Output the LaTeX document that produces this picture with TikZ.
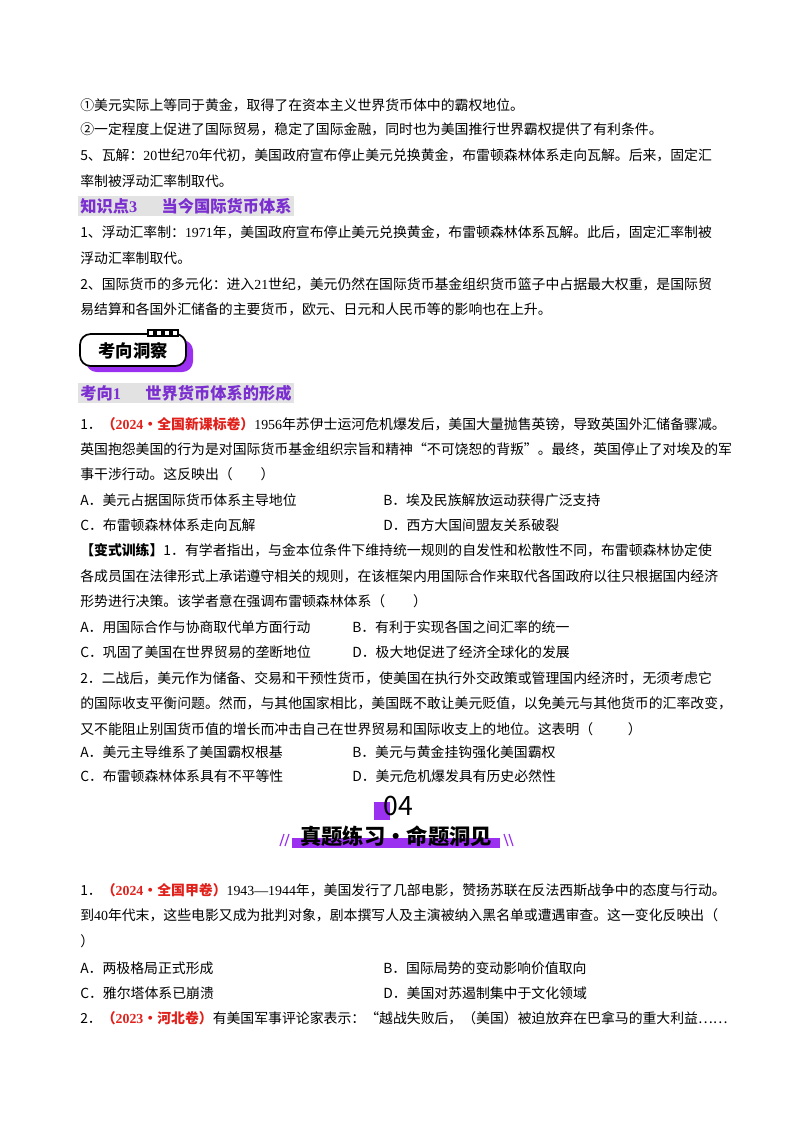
\documentclass[tikz,border=0pt]{standalone}
\usepackage{fontspec}
\setmainfont{Noto Sans CJK SC}
\newfontfamily\lat{Liberation Serif}
\definecolor{pur}{HTML}{7B2FD0}
\definecolor{vio}{HTML}{9B30F0}
\definecolor{redc}{HTML}{E0201A}
\definecolor{hbg}{HTML}{E2E2E2}
\begin{document}
\begin{tikzpicture}[x=0.75pt,y=-0.75pt,
  t/.style={anchor=west,inner sep=0pt,font=\fontsize{10.4pt}{12pt}\selectfont},
  h/.style={anchor=west,inner sep=1.5pt,fill=hbg,text=pur,font=\fontsize{12.2pt}{14pt}\selectfont\bfseries},
  r/.style={text=redc}]
\useasboundingbox (0,0) rectangle (800,1132);
\node[t] (l1) at (80,105) {①美元实际上等同于黄金，取得了在资本主义世界货币体中的霸权地位。};
\node[t] (l2) at (80,129) {②一定程度上促进了国际贸易，稳定了国际金融，同时也为美国推行世界霸权提供了有利条件。};
\node[t] (l3) at (80,155) {5、瓦解：{\lat 20}世纪{\lat 70}年代初，美国政府宣布停止美元兑换黄金，布雷顿森林体系走向瓦解。后来，固定汇};
\node[t] (l4) at (80,181) {率制被浮动汇率制取代。};
\node[h] (k3) at (78,206) {知识点{\lat 3}\hspace{1.5em}当今国际货币体系};
\node[t] (l5) at (80,232) {1、浮动汇率制：{\lat 1971}年，美国政府宣布停止美元兑换黄金，布雷顿森林体系瓦解。此后，固定汇率制被};
\node[t] (l6) at (80,258) {浮动汇率制取代。};
\node[t] (l7) at (80,284) {2、国际货币的多元化：进入{\lat 21}世纪，美元仍然在国际货币基金组织货币篮子中占据最大权重，是国际贸};
\node[t] (l8) at (80,309) {易结算和各国外汇储备的主要货币，欧元、日元和人民币等的影响也在上升。};
% badge
\fill[vio,rounded corners=8pt] (86,340) rectangle (193,372);
\draw[black,line width=1.3pt,fill=white,rounded corners=8pt] (80,334) rectangle (186,366);
\foreach \i in {0,1,2,3}{\draw[black,fill=white,line width=0.8pt] (148+\i*8,330) rectangle (154+\i*8,336);}
\node[inner sep=0pt,font=\fontsize{13pt}{15pt}\selectfont\bfseries] (badge) at (133,351) {考向洞察};
\node[h] (kx1) at (78,393) {考向{\lat 1}\hspace{1.5em}世界货币体系的形成};
\node[t] (q1) at (80,424) {1．{\bfseries\color{redc}（{\lat 2024}·全国新课标卷）}{\lat 1956}年苏伊士运河危机爆发后，美国大量抛售英镑，导致英国外汇储备骤减。};
\node[t] (q1b) at (80,449) {英国抱怨美国的行为是对国际货币基金组织宗旨和精神“不可饶恕的背叛"。最终，英国停止了对埃及的军};
\node[t] (q1c) at (80,474) {事干涉行动。这反映出（\hspace{2em}）};
\node[t] (q1a) at (80,500) {A．美元占据国际货币体系主导地位};
\node[t] (q1bb) at (383,500) {B．埃及民族解放运动获得广泛支持};
\node[t] (q1cc) at (80,525) {C．布雷顿森林体系走向瓦解};
\node[t] (q1d) at (383,525) {D．西方大国间盟友关系破裂};
\node[t] (v1) at (80,550) {{\bfseries 【变式训练】}1．有学者指出，与金本位条件下维持统一规则的自发性和松散性不同，布雷顿森林协定使};
\node[t] (v1b) at (80,576) {各成员国在法律形式上承诺遵守相关的规则，在该框架内用国际合作来取代各国政府以往只根据国内经济};
\node[t] (v1c) at (80,601) {形势进行决策。该学者意在强调布雷顿森林体系（\hspace{2em}）};
\node[t] (v1a) at (80,627) {A．用国际合作与协商取代单方面行动};
\node[t] (v1bb) at (352,627) {B．有利于实现各国之间汇率的统一};
\node[t] (v1cc) at (80,652) {C．巩固了美国在世界贸易的垄断地位};
\node[t] (v1d) at (352,652) {D．极大地促进了经济全球化的发展};
\node[t] (v2) at (80,678) {2．二战后，美元作为储备、交易和干预性货币，使美国在执行外交政策或管理国内经济时，无须考虑它};
\node[t] (v2b) at (80,703) {的国际收支平衡问题。然而，与其他国家相比，美国既不敢让美元贬值，以免美元与其他货币的汇率改变，};
\node[t] (v2c) at (80,729) {又不能阻止别国货币值的增长而冲击自己在世界贸易和国际收支上的地位。这表明（\hspace{2.5em}）};
\node[t] (v2a) at (80,752) {A．美元主导维系了美国霸权根基};
\node[t] (v2bb) at (352,752) {B．美元与黄金挂钩强化美国霸权};
\node[t] (v2cc) at (80,776) {C．布雷顿森林体系具有不平等性};
\node[t] (v2d) at (352,776) {D．美元危机爆发具有历史必然性};
% banner 04
\fill[vio] (374,802) rectangle (390,820);
\node[inner sep=0pt,font=\fontsize{20pt}{22pt}\selectfont] (n04) at (398,806) {04};
\fill[vio] (292,838) rectangle (500,848);
\node[inner sep=0pt,font=\fontsize{16pt}{18pt}\selectfont\bfseries] (ban) at (396,836) {真题练习·命题洞见};
\foreach \dx in {0,5}{\draw[vio,line width=0.9pt] (280+\dx,846)--(284+\dx,834);}
\foreach \dx in {0,5}{\draw[vio,line width=0.9pt] (504+\dx,834)--(508+\dx,846);}
\node[t] (p1) at (80,890) {1．{\bfseries\color{redc}（{\lat 2024}·全国甲卷）}{\lat 1943—1944}年，美国发行了几部电影，赞扬苏联在反法西斯战争中的态度与行动。};
\node[t] (p1b) at (80,915) {到{\lat 40}年代末，这些电影又成为批判对象，剧本撰写人及主演被纳入黑名单或遭遇审查。这一变化反映出（};
\node[t] (p1c) at (80,941) {）};
\node[t] (p1a) at (80,968) {A．两极格局正式形成};
\node[t] (p1bb) at (383,968) {B．国际局势的变动影响价值取向};
\node[t] (p1cc) at (80,993) {C．雅尔塔体系已崩溃};
\node[t] (p1d) at (383,993) {D．美国对苏遏制集中于文化领域};
\node[t] (p2) at (80,1018) {2．{\bfseries\color{redc}（{\lat 2023}·河北卷）}有美国军事评论家表示：“越战失败后，（美国）被迫放弃在巴拿马的重大利益……};
\end{tikzpicture}
\end{document}
